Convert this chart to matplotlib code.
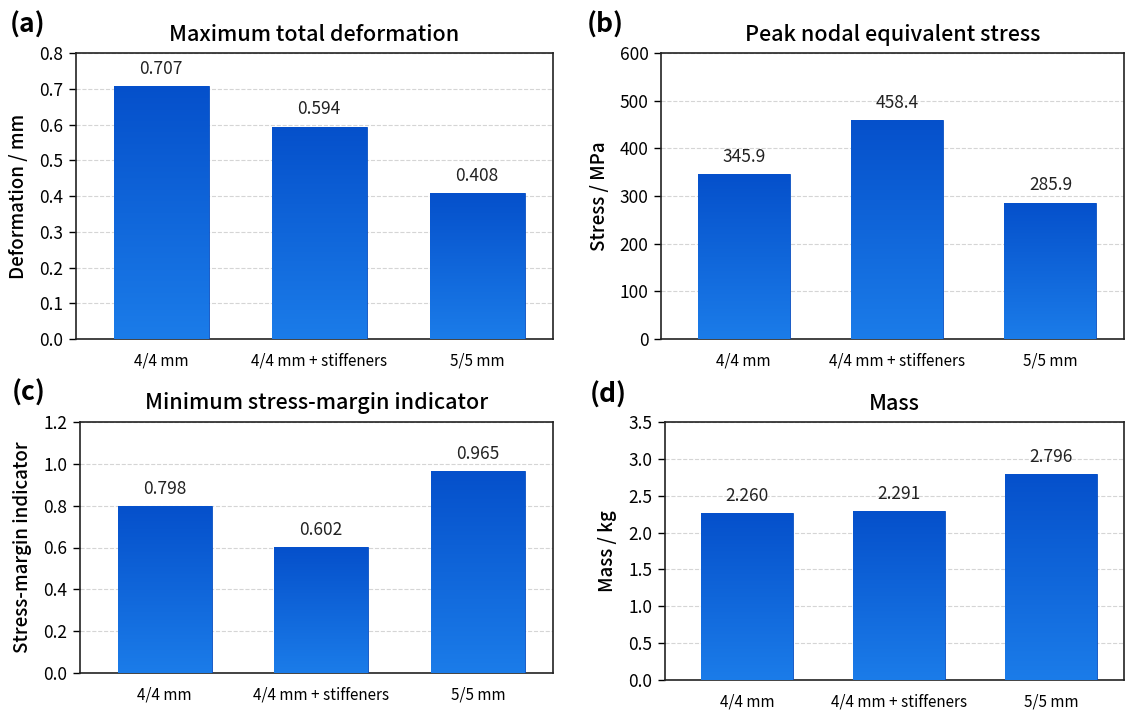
import numpy as np
import matplotlib
matplotlib.use('Agg')
import matplotlib.pyplot as plt
from matplotlib.colors import LinearSegmentedColormap

plt.rcParams['font.family'] = ['Noto Sans CJK JP', 'DejaVu Sans']

categories = ['4/4 mm', '4/4 mm + stiffeners', '5/5 mm']

deformation = [0.707, 0.594, 0.408]
stress = [345.9, 458.4, 285.9]
margin = [0.798, 0.602, 0.965]
mass = [2.260, 2.291, 2.796]

panels = [
    ('(a)', 'Maximum total deformation', 'Deformation / mm', deformation,
     (0, 0.8), np.arange(0, 0.81, 0.1), '{:.1f}', '{:.3f}'),
    ('(b)', 'Peak nodal equivalent stress', 'Stress / MPa', stress,
     (0, 600), np.arange(0, 601, 100), '{:.0f}', '{:.1f}'),
    ('(c)', 'Minimum stress-margin indicator', 'Stress-margin indicator', margin,
     (0, 1.2), np.arange(0, 1.21, 0.2), '{:.1f}', '{:.3f}'),
    ('(d)', 'Mass', 'Mass / kg', mass,
     (0, 3.5), np.arange(0, 3.51, 0.5), '{:.1f}', '{:.3f}'),
]

# axes boxes in pixels: left, top, right, bottom
boxes = [
    (76, 53, 553, 339),
    (661, 53, 1124, 339),
    (80, 422, 553, 673),
    (665, 422, 1124, 680),
]
# panel letter positions in pixels (left, top)
letter_pos = [(10, 12), (587, 12), (12, 380), (590, 382)]

W, H = 1126, 713
fig = plt.figure(figsize=(W / 100, H / 100), dpi=100)

cmap = LinearSegmentedColormap.from_list('bluegrad', ['#1b7ce9', '#0550cb'])
grad = np.linspace(0, 1, 256).reshape(-1, 1)

for (letter, title, ylabel, vals, ylim, yticks, tickfmt, valfmt), box, lp in zip(panels, boxes, letter_pos):
    l, t, r, b = box
    ax = fig.add_axes([l / W, 1 - b / H, (r - l) / W, (b - t) / H])
    x = np.arange(len(categories))
    bars = ax.bar(x, vals, width=0.6, color='#1565db', edgecolor='#0a4fc0',
                  linewidth=0.6, zorder=3)
    for bar in bars:
        bx, by = bar.get_x(), bar.get_y()
        bw, bh = bar.get_width(), bar.get_height()
        im = ax.imshow(grad, cmap=cmap, aspect='auto', origin='lower',
                       extent=[bx, bx + bw, by, by + bh], zorder=3.5)
        im.set_clip_path(bar)
    for xi, v in zip(x, vals):
        ax.annotate(valfmt.format(v), (xi, v), xytext=(0, 6),
                    textcoords='offset points', ha='center', va='bottom',
                    fontsize=12.5, color='#222222')
    ax.set_xlim(-0.54, 2.48)
    ax.set_ylim(*ylim)
    ax.set_yticks(yticks)
    ax.set_yticklabels([tickfmt.format(v) for v in yticks], fontsize=12.5)
    ax.set_xticks(x)
    ax.set_xticklabels(categories, fontsize=11)
    ax.tick_params(axis='x', length=0, pad=10)
    ax.tick_params(axis='y', length=5, width=1.0, pad=4)
    ax.yaxis.grid(True, linestyle='--', color='#d5d5d5', linewidth=0.8, zorder=0)
    ax.set_axisbelow(True)
    for s in ax.spines.values():
        s.set_linewidth(1.2)
        s.set_color('#222222')
    ax.set_ylabel(ylabel, fontsize=13.5, fontweight='medium', labelpad=8)
    ax.set_title(title, fontsize=15.5, fontweight='medium', pad=9)
    fig.text(lp[0] / W, 1 - lp[1] / H, letter, fontsize=19,
             fontweight='bold', ha='left', va='top')

fig.savefig('out.png', dpi=100, facecolor='white')
